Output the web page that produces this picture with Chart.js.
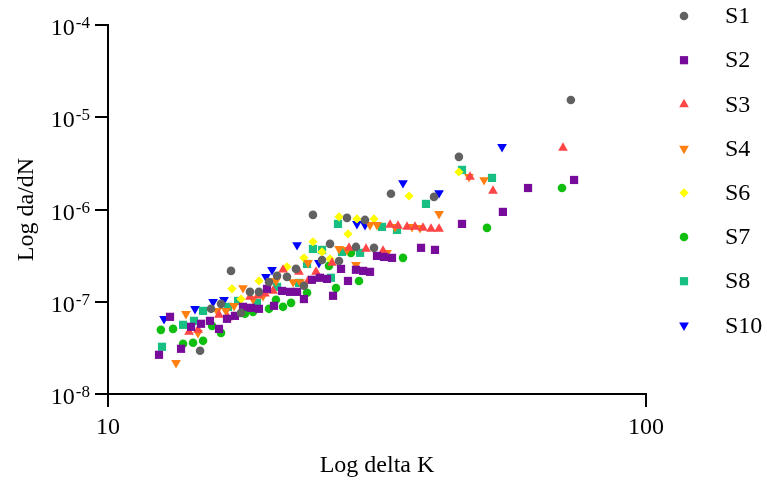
<!DOCTYPE html>
<html>
<head>
<meta charset="utf-8">
<script src="https://cdn.jsdelivr.net/npm/chart.js"></script>
<style>
	html, body { margin: 0; padding: 0; background: #fff; }
	canvas { display: block; }
</style>
</head>
<body>
<canvas id="ctx" width="767" height="481"></canvas>
<script>

	// DATA (delta K, da/dN)
	// --------------------
	var s1K = [14.83,15.54,16.22,16.93,17.67,18.36,19.08,19.92,20.62,21.51,22.36,23.13,24.04,24.99,25.86,26.88,27.81,28.9,30.04,31.22,33.57,40.36,44.9,72.5];
	var s1R = [2.94e-8,8.38e-8,9.49e-8,2.16e-7,7.58e-8,1.28e-7,1.28e-7,1.64e-7,1.91e-7,1.86e-7,2.27e-7,1.49e-7,8.74e-7,2.84e-7,4.24e-7,2.77e-7,8.11e-7,3.93e-7,7.71e-7,3.84e-7,1.48e-6,1.37e-6,3.72e-6,1.54e-5];

	var s2K = [12.44,13.04,13.67,14.27,14.89,15.47,16.08,16.64,17.22,17.82,18.44,19.08,19.75,20.35,21.06,21.8,22.46,23.13,23.94,24.77,25.53,26.2,27.11,27.93,28.9,29.79,30.69,31.62,32.59,33.72,38.18,40.53,45.5,54.2,60.36,73.5];
	var s2R = [2.66e-8,6.86e-8,3.09e-8,5.35e-8,5.77e-8,6.21e-8,5.08e-8,6.53e-8,7.03e-8,8.81e-8,8.59e-8,8.38e-8,1.38e-7,9.03e-8,1.31e-7,1.28e-7,1.28e-7,1.07e-7,1.73e-7,1.82e-7,1.77e-7,1.16e-7,2.27e-7,1.68e-7,2.22e-7,2.16e-7,2.11e-7,3.14e-7,3.06e-7,2.99e-7,3.84e-7,3.65e-7,6.98e-7,9.42e-7,1.71e-6,2.09e-6];

	var s3K = [14.15,14.7,16.08,16.71,18.36,19.0,19.58,20.27,21.15,22.65,23.54,24.36,26.09,28.05,30.17,32.45,33.44,34.6,35.96,37.21,38.5,39.85,41.24,47.09,51.95,70.1];
	var s3R = [4.72e-8,4.96e-8,7.21e-8,6.7e-8,1.13e-7,1.16e-7,1.22e-7,1.31e-7,2.22e-7,2.11e-7,1.68e-7,2.11e-7,2.64e-7,3.84e-7,3.74e-7,3.56e-7,6.81e-7,6.64e-7,6.48e-7,6.48e-7,6.32e-7,6.17e-7,6.17e-7,2.26e-6,1.59e-6,4.65e-6];

	var s4K = [13.38,13.96,14.7,15.95,16.57,17.15,17.82,18.6,19.42,20.09,20.52,22.08,22.75,23.54,26.88,27.81,28.9,30.69,31.62,33.01,34.16,36.73,38.02,41.24,46.88,50.0];
	var s4R = [2.18e-8,7.4e-8,4.6e-8,7.96e-8,7.96e-8,9.03e-8,1.41e-7,1.07e-7,1.16e-7,1.68e-7,1.68e-7,1.64e-7,1.64e-7,2.64e-7,3.74e-7,3.65e-7,2.51e-7,6.81e-7,6.81e-7,3.39e-7,6.48e-7,6.48e-7,6.32e-7,8.96e-7,2.26e-6,2.09e-6];

	var s6K = [17.0,17.67,19.08,21.51,23.13,24.04,24.99,25.86,26.88,27.93,29.02,31.22,36.27,44.9];
	var s6R = [1.38e-7,1.07e-7,1.68e-7,2.39e-7,2.99e-7,4.46e-7,3.47e-7,2.92e-7,8.32e-7,5.44e-7,7.91e-7,7.91e-7,1.4e-6,2.55e-6];

	var s7K = [12.54,13.21,13.79,14.39,15.02,15.61,16.22,17.97,18.6,19.92,20.52,21.15,21.89,23.44,25.75,26.53,28.29,29.28,35.34,50.63,69.8];
	var s7R = [4.96e-8,5.08e-8,3.5e-8,3.59e-8,3.77e-8,5.48e-8,4.6e-8,7.4e-8,7.77e-8,8.38e-8,1.05e-7,8.81e-8,9.73e-8,1.25e-7,2.45e-7,1.41e-7,3.39e-7,1.68e-7,2.99e-7,6.32e-7,1.71e-6];

	var s8K = [12.6,13.79,14.45,15.02,16.71,17.45,18.92,20.62,22.65,23.44,24.04,24.99,25.97,26.76,27.22,29.41,32.31,34.45,39.0,45.5,51.73];
	var s8R = [3.25e-8,5.62e-8,6.21e-8,7.96e-8,8.81e-8,1.02e-7,9.73e-8,1.45e-7,1.6e-7,2.57e-7,3.74e-7,3.65e-7,1.82e-7,6.98e-7,3.47e-7,3.39e-7,6.48e-7,6.01e-7,1.15e-6,2.69e-6,2.2e-6];

	var s10K = [12.71,14.51,15.68,16.43,19.66,20.18,22.46,24.66,29.02,30.04,35.34,41.24,54.0];
	var s10R = [6.53e-8,8.38e-8,9.98e-8,1.05e-7,1.86e-7,2.22e-7,4.13e-7,2.64e-7,6.98e-7,6.81e-7,1.94e-6,1.51e-6,4.77e-6];

	var xTicks = [10, 100];
	var yTicks = [1e-8, 1e-7, 1e-6, 1e-5, 1e-4];

	var serif = '"Liberation Serif", "Times New Roman", serif';

	// METHODS
	// --------------------
	function points(xs, ys){
		var out = [];
		for(var i = 0 ; i < xs.length ; i++){
			out.push({x: xs[i], y: ys[i]});
		}
		return out;
	}

	function series(label, xs, ys, color, style, radius, rotation){
		return {
			label: label,
			data: points(xs, ys),
			backgroundColor: color,
			borderWidth: 0,
			pointStyle: style,
			pointRadius: radius,
			pointRotation: rotation || 0
		};
	}

	function fixWidth(w){
		return function(scale){
			scale.width = w;
			scale.paddingTop = 0;
			scale.paddingBottom = 0;
		};
	}

	function fixHeight(h){
		return function(scale){
			scale.height = h;
			scale.paddingLeft = 0;
			scale.paddingRight = 0;
		};
	}

	// y labels as 10 with a raised exponent
	var powerLabels = {
		id: 'powerLabels',
		afterDraw: function(chart){
			var ctx = chart.ctx;
			var sc = chart.scales.y;
			ctx.save();
			ctx.fillStyle = '#000';
			ctx.textBaseline = 'alphabetic';
			ctx.textAlign = 'right';
			sc.ticks.forEach(function(t){
				var py = sc.getPixelForValue(t.value);
				var exp = String(Math.round(Math.log10(t.value)));
				ctx.font = '17px ' + serif;
				var ew = ctx.measureText(exp).width;
				ctx.fillText(exp, 90, py + 3);
				ctx.font = '24px ' + serif;
				ctx.fillText('10', 90 - ew - 1, py + 10);
			});
			ctx.restore();
		}
	};

	// legend column on the right
	var sideLegend = {
		id: 'sideLegend',
		afterDraw: function(chart){
			var ctx = chart.ctx;
			ctx.save();
			chart.data.datasets.forEach(function(ds, i){
				var y = 16 + i * 44.2;
				ctx.fillStyle = ds.backgroundColor;
				Chart.helpers.drawPoint(ctx, {
					pointStyle: ds.pointStyle,
					rotation: ds.pointRotation,
					radius: ds.pointRadius,
					borderWidth: 0
				}, 684, y);
				ctx.fillStyle = '#000';
				ctx.font = '24px ' + serif;
				ctx.textAlign = 'left';
				ctx.textBaseline = 'middle';
				ctx.fillText(ds.label, 725, y + 1);
			});
			ctx.restore();
		}
	};

	var datasets = [
		series('S1', s1K, s1R, '#616161', 'circle', 4.3),
		series('S2', s2K, s2R, '#780C9A', 'rect', 5.8),
		series('S3', s3K, s3R, '#FF4545', 'triangle', 5.6),
		series('S4', s4K, s4R, '#FF7F10', 'triangle', 5.6, 180),
		series('S6', s6K, s6R, '#FFFF00', 'rectRot', 4.6),
		series('S7', s7K, s7R, '#10BE10', 'circle', 4.3),
		series('S8', s8K, s8R, '#18BF82', 'rect', 5.8),
		series('S10', s10K, s10R, '#0000FF', 'triangle', 5.6, 180)
	];

	var axisLine = { display: true, color: '#000', width: 2 };
	var axisGrid = { drawOnChartArea: false, drawTicks: true, tickLength: 13, color: '#000', lineWidth: 2 };

	var mychart = new Chart(document.getElementById('ctx'), {
		type: 'scatter',
		data: { datasets: datasets },
		plugins: [powerLabels, sideLegend],
		options: {
			responsive: false,
			animation: false,
			devicePixelRatio: 1,
			events: [],
			layout: { padding: { left: 0, right: 121, top: 25, bottom: 0 } },
			plugins: {
				legend: { display: false },
				tooltip: { enabled: false }
			},
			scales: {
				x: {
					type: 'logarithmic',
					min: 10,
					max: 100,
					afterBuildTicks: function(s){ s.ticks = xTicks.map(function(v){ return {value: v}; }); },
					afterFit: fixHeight(87),
					border: axisLine,
					grid: axisGrid,
					ticks: {
						color: '#000',
						padding: 6,
						maxRotation: 0,
						font: { family: serif, size: 24 },
						callback: function(v){ return String(v); }
					},
					title: {
						display: true,
						text: 'Log delta K',
						color: '#000',
						padding: { top: 0, bottom: 1 },
						font: { family: serif, size: 24 }
					}
				},
				y: {
					type: 'logarithmic',
					min: 1e-8,
					max: 1e-4,
					afterBuildTicks: function(s){ s.ticks = yTicks.map(function(v){ return {value: v}; }); },
					afterFit: fixWidth(108),
					border: axisLine,
					grid: axisGrid,
					ticks: {
						color: '#000',
						callback: function(){ return ''; }
					},
					title: {
						display: true,
						text: 'Log da/dN',
						color: '#000',
						padding: { top: 12, bottom: 0 },
						font: { family: serif, size: 24 }
					}
				}
			}
		}
	});

</script>
</body>
</html>
